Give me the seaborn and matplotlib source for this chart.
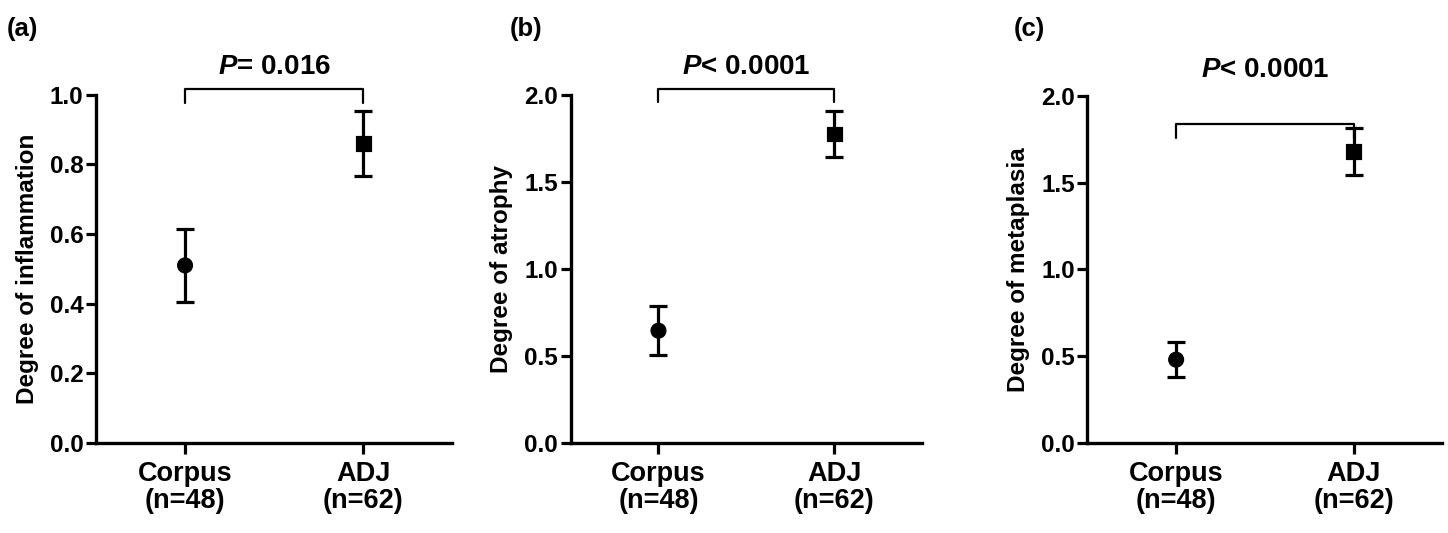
import matplotlib
matplotlib.use("Agg")
import matplotlib.pyplot as plt
import seaborn as sns
import pandas as pd

# data (mean +/- SEM)
groups = ["Corpus\n(n=48)", "ADJ\n(n=62)"]
inflammation_mean = [0.51, 0.86]
inflammation_sem = [0.106, 0.093]
atrophy_mean = [0.645, 1.775]
atrophy_sem = [0.14, 0.13]
metaplasia_mean = [0.48, 1.68]
metaplasia_sem = [0.10, 0.135]

ylabels = ["Degree of inflammation", "Degree of atrophy", "Degree of metaplasia"]
ymax = [1.0, 2.0, 2.0]
yticks = [[0.0, 0.2, 0.4, 0.6, 0.8, 1.0], [0.0, 0.5, 1.0, 1.5, 2.0], [0.0, 0.5, 1.0, 1.5, 2.0]]
p_texts = ["$P$= 0.016", "$P$< 0.0001", "$P$< 0.0001"]
bracket_top = [1.017, 2.033, 1.84]
bracket_drop = [0.041, 0.073, 0.08]
p_y = [1.08, 2.16, 2.15]
panel_tags = ["(a)", "(b)", "(c)"]

sns.set_theme(style="ticks")
plt.rcParams["font.family"] = ["Liberation Sans", "DejaVu Sans"]
plt.rcParams["font.weight"] = "bold"
plt.rcParams["text.color"] = "black"
plt.rcParams["axes.labelcolor"] = "black"
plt.rcParams["mathtext.fontset"] = "custom"
plt.rcParams["mathtext.it"] = "Liberation Sans:bold:italic"
plt.rcParams["mathtext.rm"] = "Liberation Sans:bold"

fig = plt.figure(figsize=(14.48, 5.33), dpi=100)
positions = [
    [0.0663, 0.169, 0.246, 0.653],
    [0.394, 0.169, 0.243, 0.653],
    [0.751, 0.169, 0.245, 0.651],
]
tag_x = [0.005, 0.352, 0.700]

series = [
    (inflammation_mean, inflammation_sem),
    (atrophy_mean, atrophy_sem),
    (metaplasia_mean, metaplasia_sem),
]

for i, (means, sems) in enumerate(series):
    ax = fig.add_axes(positions[i])
    df = pd.DataFrame({"group": groups, "mean": means, "sem": sems})

    ax.errorbar(df["group"], df["mean"], yerr=df["sem"], fmt="none",
                ecolor="black", elinewidth=2.3, capsize=6.5, capthick=2.3, zorder=2)
    sns.scatterplot(data=df, x="group", y="mean", style="group",
                    markers=["o", "s"], s=115, color="black",
                    edgecolor="black", legend=False, ax=ax, zorder=3)

    ax.set_xlim(-0.5, 1.5)
    ax.set_ylim(0, ymax[i])
    ax.set_yticks(yticks[i])
    ax.set_yticklabels([f"{t:.1f}" for t in yticks[i]])
    ax.set_xlabel("")
    ax.set_ylabel(ylabels[i], fontsize=17.5, fontweight="bold", labelpad=8,
                  color="black")

    sns.despine(ax=ax)
    for side in ["left", "bottom"]:
        ax.spines[side].set_linewidth(2.4)
        ax.spines[side].set_color("black")
    ax.tick_params(axis="y", width=2.3, length=7, labelsize=17.5,
                   colors="black", pad=2)
    ax.tick_params(axis="x", width=2.3, length=8, labelsize=19.5,
                   colors="black", pad=5)
    for lab in ax.get_xticklabels() + ax.get_yticklabels():
        lab.set_fontweight("bold")
    for lab in ax.get_xticklabels():
        lab.set_linespacing(1.05)

    # significance bracket
    top = bracket_top[i]
    ax.plot([0, 0, 1, 1], [top - bracket_drop[i], top, top, top - bracket_drop[i]],
            color="black", lw=1.6, clip_on=False)
    ax.text(0.5, p_y[i], p_texts[i], ha="center", va="center", color="black",
            fontsize=20, fontweight="bold", clip_on=False)

    fig.text(tag_x[i], 0.945, panel_tags[i], fontsize=18.5, fontweight="bold",
             ha="left", va="center", color="black")

fig.savefig("out.png", dpi=100)
